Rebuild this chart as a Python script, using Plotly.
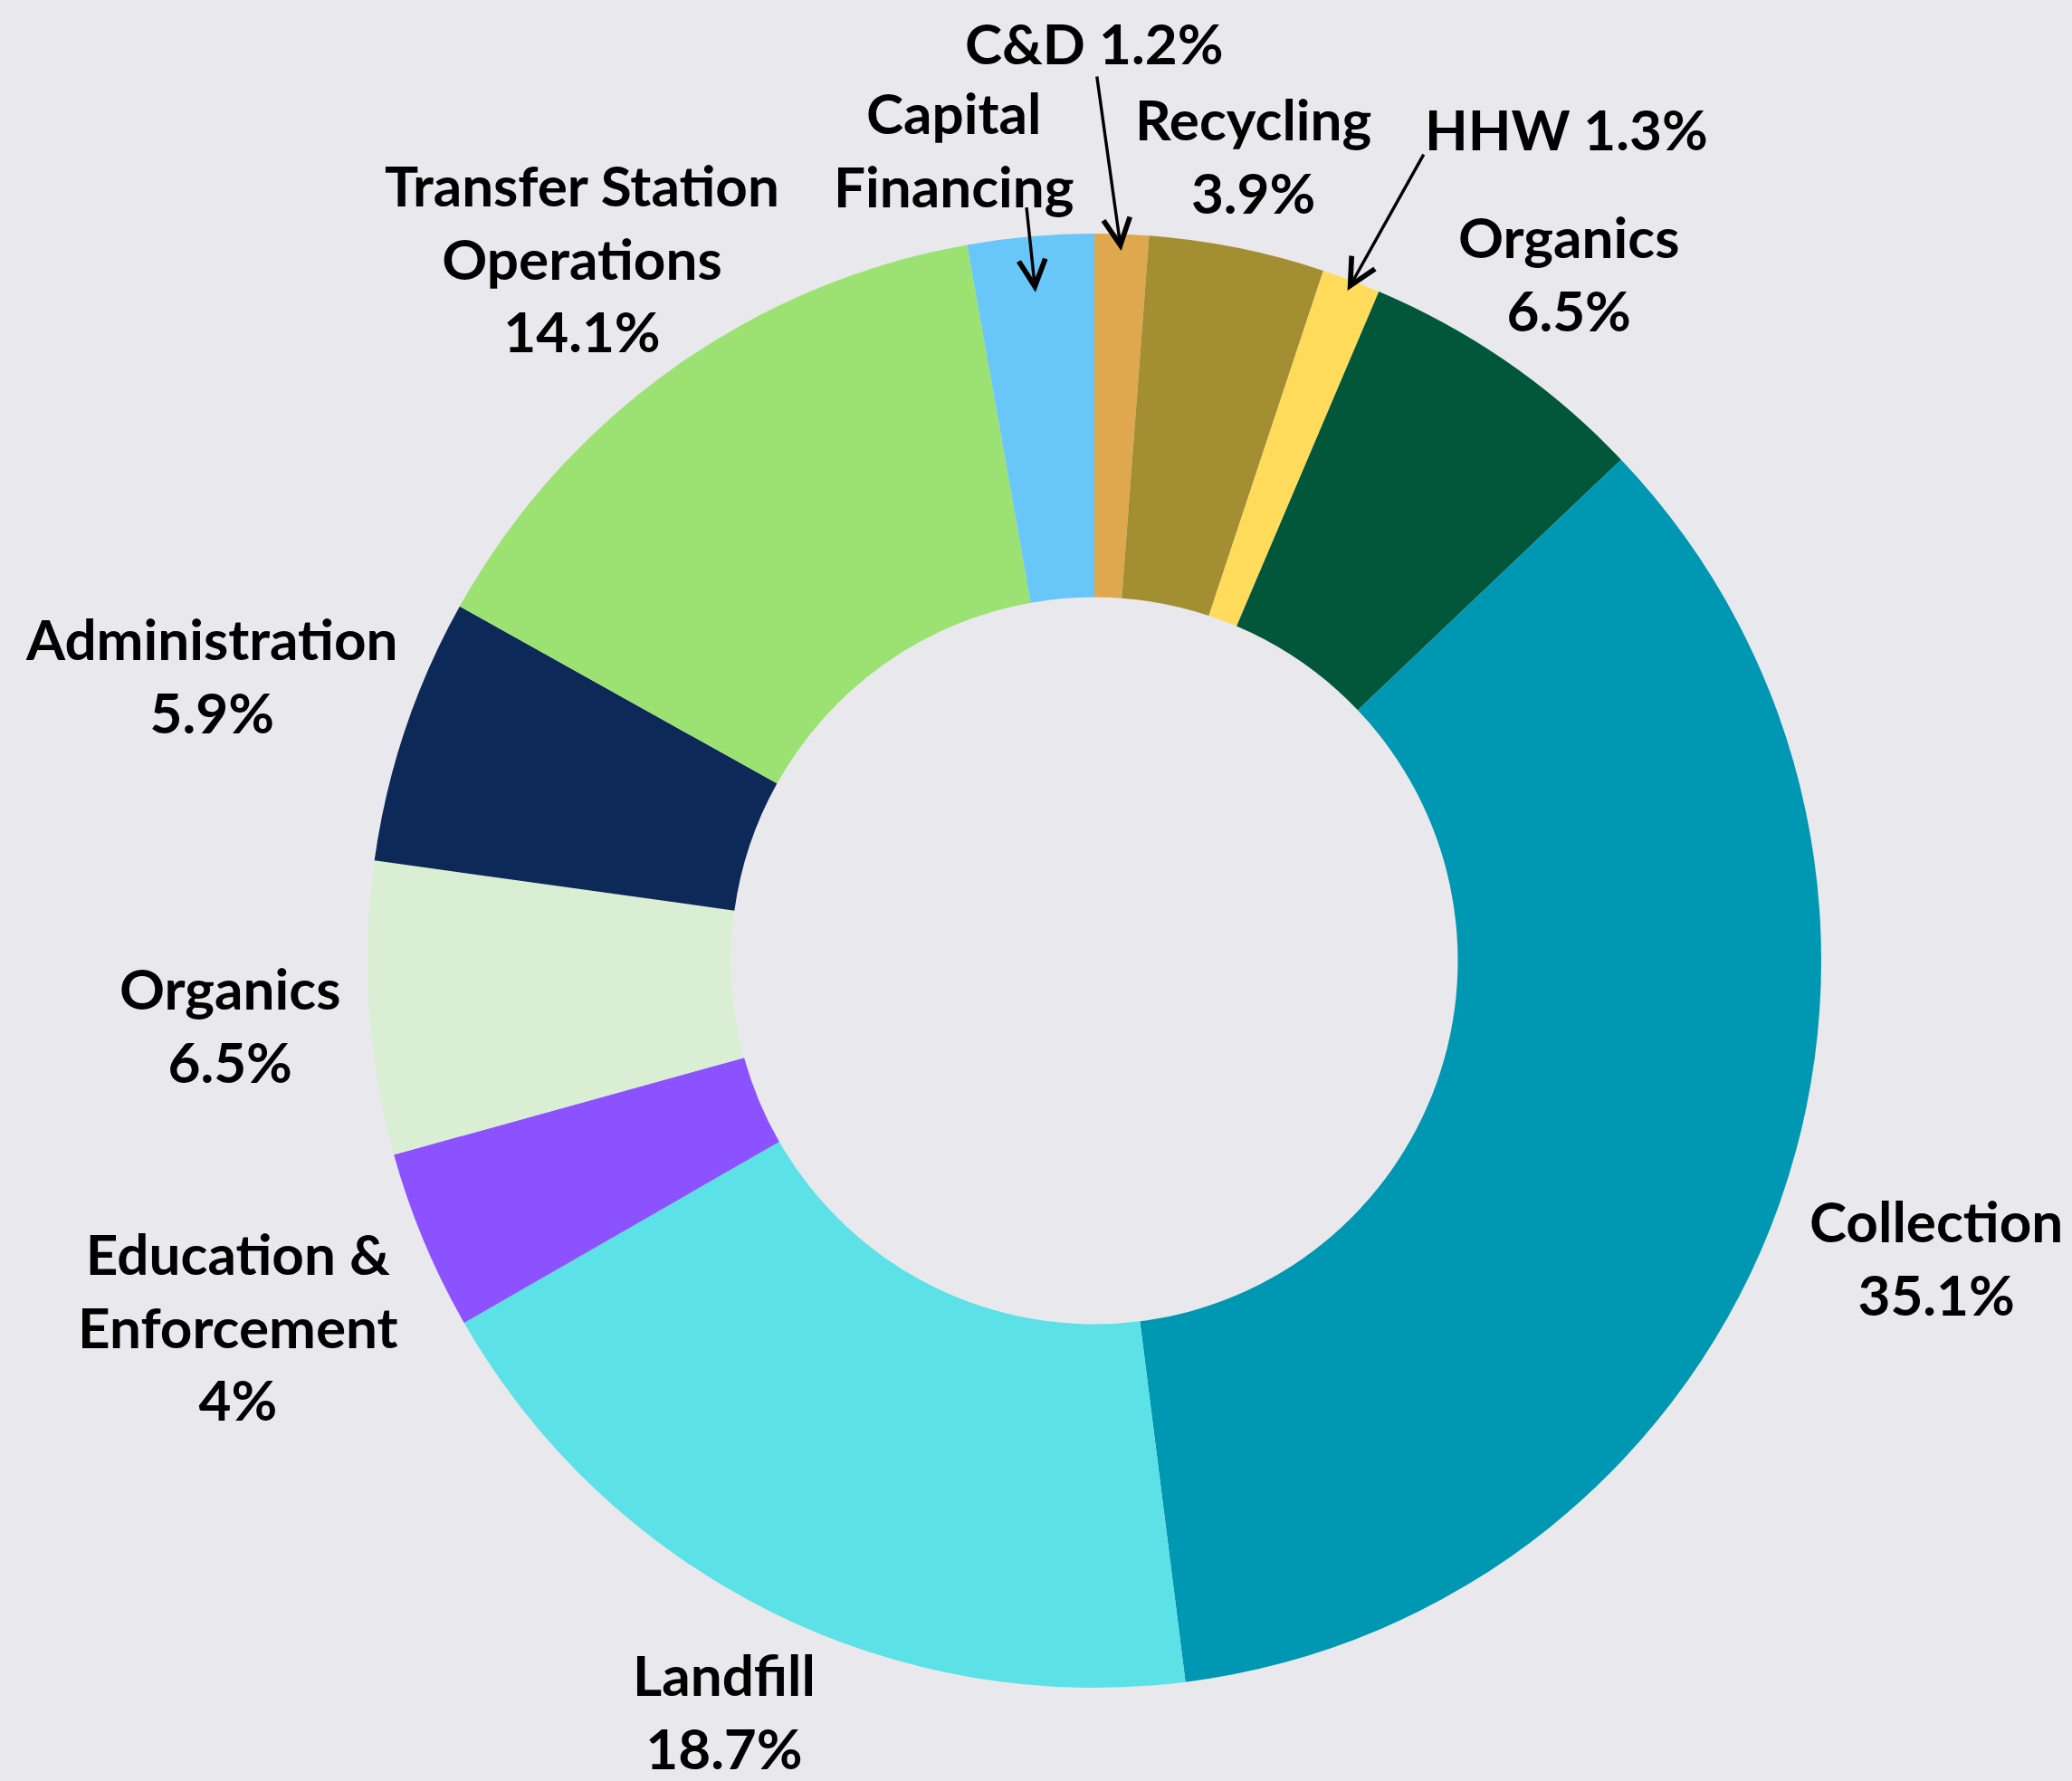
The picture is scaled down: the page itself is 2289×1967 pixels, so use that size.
import math
import plotly.graph_objects as go

# ---------------- data ----------------
categories = ["C&D", "Recycling", "HHW", "Organics", "Collection", "Landfill",
              "Education & Enforcement", "Organics", "Administration",
              "Transfer Station Operations", "Capital Financing"]
shares = [1.2, 3.9, 1.3, 6.5, 35.1, 18.7, 4.0, 6.5, 5.9, 14.1, 2.8]
label_names = ["C&D", "Recycling", "HHW", "Organics", "Collection", "Landfill",
               "Education &<br>Enforcement", "Organics", "Administration",
               "Transfer Station<br>Operations", "Capital<br>Financing"]
show_pct = [True, True, True, True, True, True, True, True, True, True, False]
inline_pct = [True, False, True, False, False, False, False, False, False, False, False]

# ---------------- style / layout ----------------
colors = ["#E0A84E", "#A38E32", "#FFDB5C", "#02573A", "#0097B2", "#5CE1E6",
          "#8C52FF", "#D9EED2", "#0C2958", "#9CE272", "#68C6F8"]
W, H = 2289, 1967
BG = "#E9E9ED"
dom_x = [406 / W, 2012 / W]
dom_y = [1 - 1864 / H, 1 - 258 / H]

# label centres in pixels (layout positions)
label_pos = [(1209, 47), (1384, 171), (1730, 142), (1733, 301), (2139, 1388),
             (800, 1889), (263, 1464), (254, 1131), (234, 746), (643, 284),
             (1054, 164)]

# arrows: slice index -> (radius fraction of head, tail offset px)
arrows = {0: (0.977, (-27, -194)), 2: (0.985, (85, -152)), 10: (0.923, (-10, -95))}

fig = go.Figure(go.Pie(
    values=shares,
    hovertext=categories,
    hoverinfo="text+percent",
    marker=dict(colors=colors, line=dict(width=0)),
    hole=0.5,
    sort=False,
    direction="clockwise",
    rotation=0,
    textinfo="none",
    textposition="none",
    domain=dict(x=dom_x, y=dom_y),
    showlegend=False,
))

font = dict(family="Lato, 'Open Sans', sans-serif", size=62, color="#000000", weight="bold")
annotations = []
for i, name in enumerate(label_names):
    pct = f"{shares[i]:g}%"
    if not show_pct[i]:
        txt = name
    elif inline_pct[i]:
        txt = f"{name} {pct}"
    else:
        txt = f"{name}<br>{pct}"
    px, py = label_pos[i]
    annotations.append(dict(text=txt, x=px / W, y=1 - py / H, xref="paper", yref="paper",
                            xanchor="center", yanchor="middle", showarrow=False,
                            font=font, align="center"))

# arrow heads computed from slice geometry
cx = (dom_x[0] + dom_x[1]) / 2 * W
cy = (1 - (dom_y[0] + dom_y[1]) / 2) * H
R = min((dom_x[1] - dom_x[0]) * W, (dom_y[1] - dom_y[0]) * H) / 2
total = sum(shares)
for idx, (rf, (dx, dy)) in arrows.items():
    mid = (sum(shares[:idx]) + shares[idx] / 2) / total * 2 * math.pi
    hx = cx + rf * R * math.sin(mid)
    hy = cy - rf * R * math.cos(mid)
    annotations.append(dict(text="", x=hx / W, y=1 - hy / H, xref="paper", yref="paper",
                            showarrow=True, ax=dx, ay=dy, arrowhead=5, arrowsize=1.7,
                            arrowwidth=3.4, arrowcolor="#000000", standoff=0))

fig.update_layout(
    width=W, height=H,
    margin=dict(l=0, r=0, t=0, b=0),
    paper_bgcolor=BG, plot_bgcolor=BG,
    annotations=annotations,
)
fig.write_html("out.html", config={"displayModeBar": False},
               post_script="document.body.style.margin='0';document.body.style.background='" + BG + "';")
